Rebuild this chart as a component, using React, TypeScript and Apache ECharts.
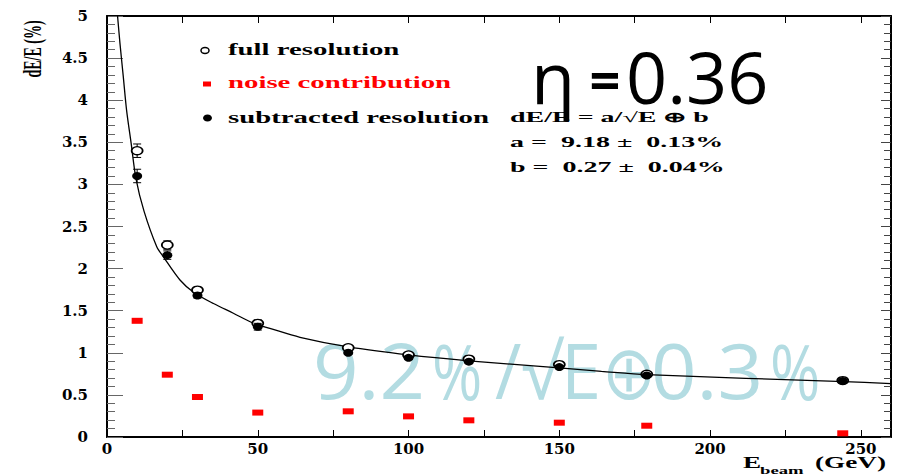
import React, { useEffect, useRef } from "react";
import * as echarts from "echarts";

// ---- data ----
const energies = [10, 20, 30, 50, 80, 100, 120, 150, 179, 244];
const fullResolution = [3.4, 2.28, 1.745, 1.35, 1.06, 0.975, 0.925, 0.86, 0.745, 0.67];
const fullErrors = [0.08, 0.05, 0.03, 0.04, 0.02, 0.02, 0.02, 0.02, 0.02, 0.02];
const subtractedResolution = [3.1, 2.16, 1.68, 1.31, 1.0, 0.94, 0.895, 0.83, 0.73, 0.665];
const subtractedErrors = [0.08, 0.05, 0.03, 0.04, 0.02, 0.02, 0.02, 0.02, 0.02, 0.02];
const noiseContribution = [1.38, 0.74, 0.475, 0.29, 0.305, 0.245, 0.198, 0.17, 0.134, 0.044];

// fit curve
const fitEnergies = [3.5, 4.3, 5.4, 6.5, 8.0, 9.6, 12.3, 16.5, 18.7, 24.2, 28.7, 35.3, 41.9, 48.6, 54, 64, 80, 100, 120, 150, 164, 179, 244.5, 260];
const fitValues = [5.0, 4.675, 4.28, 3.88, 3.49, 3.07, 2.68, 2.26, 2.14, 1.865, 1.72, 1.585, 1.47, 1.35, 1.29, 1.184, 1.07, 0.975, 0.905, 0.82, 0.78, 0.74, 0.657, 0.635];

const xTickLabels = ["0", "50", "100", "150", "200", "250"];
const legendLabels = ["full resolution", "noise contribution", "subtracted resolution"];
const fitLines = ["dE/E = a/\u221AE \u2295 b", "a =  9.18 \u00B1  0.13%", "b =  0.27 \u00B1  0.04%"];

const SERIF = '"Liberation Serif", "Times New Roman", serif';

function errorRenderer(params: any, api: any) {
  const x = api.value(0);
  const y = api.value(1);
  const e = api.value(2);
  const p1 = api.coord([x, y + e]);
  const p2 = api.coord([x, y - e]);
  const w = 4;
  const st = { stroke: "#000", lineWidth: 1 };
  return {
    type: "group",
    children: [
      { type: "line", shape: { x1: p1[0], y1: p1[1], x2: p2[0], y2: p2[1] }, style: st },
      { type: "line", shape: { x1: p1[0] - w, y1: p1[1], x2: p1[0] + w, y2: p1[1] }, style: st },
      { type: "line", shape: { x1: p2[0] - w, y1: p2[1], x2: p2[0] + w, y2: p2[1] }, style: st },
    ],
  };
}

function txt(text: string, x: number, y: number, font: string, fill: string, opts: any = {}) {
  const align = opts.align || "left";
  const { align: _a, ...rest } = opts;
  return {
    type: "text",
    x,
    y,
    ...rest,
    style: {
      text,
      font,
      fill,
      align,
      verticalAlign: "middle",
      textAlign: align,
      textVerticalAlign: "middle",
    },
  };
}

export default function App() {
  const ref = useRef<HTMLDivElement>(null);

  useEffect(() => {
    if (!ref.current) return;
    const chart = echarts.init(ref.current, undefined, { renderer: "svg" });

    const axisLine = { show: true, onZero: false, lineStyle: { color: "#000", width: 2 } };
    const tickLabel = {
      fontFamily: '"DejaVu Serif", serif',
      fontWeight: "bold" as const,
      fontSize: 15,
      color: "#000",
    };

    const blue = "#b3dce2";
    const blueFont = '76px "Open Sans", sans-serif';
    const etaFont = '72px "Open Sans", sans-serif';

    chart.setOption({
      animation: false,
      grid: { left: 107, right: 13, top: 16, bottom: 39 },
      xAxis: [
        {
          type: "value",
          min: 0,
          max: 260,
          interval: 25,
          position: "bottom",
          axisLine,
          axisTick: { inside: true, length: 7, lineStyle: { color: "#000", width: 1 } },
          axisLabel: {
            ...tickLabel,
            margin: 4,
            formatter: (v: number) => (xTickLabels.includes(String(v)) ? String(v) : ""),
          },
          splitLine: { show: false },
        },
        {
          type: "value",
          min: 0,
          max: 260,
          interval: 25,
          position: "top",
          axisLine,
          axisTick: { inside: true, length: 7, lineStyle: { color: "#000", width: 1 } },
          axisLabel: { show: false },
          splitLine: { show: false },
        },
      ],
      yAxis: [
        {
          type: "value",
          min: 0,
          max: 5,
          interval: 0.5,
          position: "left",
          axisLine,
          axisTick: { inside: true, length: 16, lineStyle: { color: "#666", width: 1 } },
          minorTick: { show: true, splitNumber: 5, length: 8, lineStyle: { color: "#666", width: 1 } },
          axisLabel: { ...tickLabel, margin: 19 },
          splitLine: { show: false },
          minorSplitLine: { show: false },
        },
        {
          type: "value",
          min: 0,
          max: 5,
          interval: 0.5,
          position: "right",
          axisLine,
          axisTick: { inside: true, length: 10, lineStyle: { color: "#444", width: 1 } },
          minorTick: { show: true, splitNumber: 5, length: 7, lineStyle: { color: "#444", width: 1 } },
          axisLabel: { show: false },
          splitLine: { show: false },
          minorSplitLine: { show: false },
        },
      ],
      series: [
        {
          type: "line",
          name: "fit",
          data: fitEnergies.map((e, i) => [e, fitValues[i]]),
          showSymbol: false,
          symbol: "none",
          smooth: 0.3,
          lineStyle: { color: "#000", width: 1.3 },
          clip: true,
          z: 3,
        },
        {
          type: "custom",
          name: "full err",
          renderItem: errorRenderer,
          encode: { x: 0, y: 1 },
          data: energies.map((e, i) => [e, fullResolution[i], fullErrors[i]]),
          z: 4,
        },
        {
          type: "scatter",
          name: legendLabels[0],
          symbol: "circle",
          symbolSize: [11, 8],
          itemStyle: { color: "#fff", borderColor: "#000", borderWidth: 1.5, opacity: 1 },
          data: energies.map((e, i) => [e, fullResolution[i]]),
          z: 5,
        },
        {
          type: "custom",
          name: "sub err",
          renderItem: errorRenderer,
          encode: { x: 0, y: 1 },
          data: energies.map((e, i) => [e, subtractedResolution[i], subtractedErrors[i]]),
          z: 6,
        },
        {
          type: "scatter",
          name: legendLabels[2],
          symbol: "circle",
          symbolSize: [10, 8],
          itemStyle: { color: "#000", opacity: 1 },
          data: energies.map((e, i) => [e, subtractedResolution[i]]),
          z: 7,
        },
        {
          type: "scatter",
          name: legendLabels[1],
          symbol: "rect",
          symbolSize: [11, 6],
          itemStyle: { color: "#ff0000", opacity: 1 },
          data: energies.map((e, i) => [e, noiseContribution[i]]),
          z: 7,
        },
      ],
      graphic: [
        // big annotation in light blue (behind the data)
        txt("9.2", 313, 370, blueFont, blue, { scaleX: 1.05, z: 1 }),
        txt("%", 432, 370, blueFont, blue, { scaleX: 0.8, z: 1 }),
        txt("/\u221AE", 495, 370, blueFont, blue, { scaleX: 0.95, z: 1 }),
        txt("\u2295", 602, 370, blueFont, blue, { scaleX: 0.85, z: 1 }),
        txt("0.3", 651, 370, blueFont, blue, { scaleX: 1.05, z: 1 }),
        txt("%", 770, 370, blueFont, blue, { scaleX: 0.8, z: 1 }),
        // eta label
        txt("\u03B7", 531, 76, etaFont, "#000", { z: 10 }),
        txt("=", 605, 79, 'bold 54px "Open Sans", sans-serif', "#000", { align: "center", z: 10 }),
        txt("0.36", 626, 76, etaFont, "#000", { z: 10 }),
        // axis names
        txt("dE/E (%)", 32, 49, `bold 14px ${SERIF}`, "#000", {
          align: "center",
          rotation: Math.PI / 2,
          scaleY: 1.8,
        }),
        txt("E", 743, 463, `bold 16px ${SERIF}`, "#000", { scaleX: 1.7 }),
        txt("beam", 760, 470, `bold 11px ${SERIF}`, "#000", { scaleX: 1.7 }),
        txt("(GeV)", 815, 463, `bold 16px ${SERIF}`, "#000", { scaleX: 1.7 }),
        // legend
        { type: "ellipse", shape: { cx: 205, cy: 50.5, rx: 4, ry: 3 }, style: { fill: "#fff", stroke: "#000", lineWidth: 1.5 }, z: 10 },
        txt(legendLabels[0], 228, 50, `bold 16px ${SERIF}`, "#000", { scaleX: 1.8, z: 10 }),
        { type: "rect", shape: { x: 203, y: 81.5, width: 8, height: 5 }, style: { fill: "#ff0000" }, z: 10 },
        txt(legendLabels[1], 228, 83, `bold 16px ${SERIF}`, "#ff0000", { scaleX: 1.8, z: 10 }),
        { type: "ellipse", shape: { cx: 207.5, cy: 118, rx: 4.5, ry: 3.5 }, style: { fill: "#000" }, z: 10 },
        txt(legendLabels[2], 228, 118, `bold 16px ${SERIF}`, "#000", { scaleX: 1.8, z: 10 }),
        // fit results
        txt(fitLines[0], 510, 117, `bold 14px ${SERIF}`, "#000", { scaleX: 2.0, z: 10 }),
        txt(fitLines[1], 510, 142, `bold 14px ${SERIF}`, "#000", { scaleX: 2.0, z: 10 }),
        txt(fitLines[2], 510, 167, `bold 14px ${SERIF}`, "#000", { scaleX: 2.0, z: 10 }),
      ],
    });

    return () => chart.dispose();
  }, []);

  return (
    <div
      ref={ref}
      style={{ position: "absolute", left: 0, top: 0, width: 904, height: 476, background: "#fff" }}
    />
  );
}
